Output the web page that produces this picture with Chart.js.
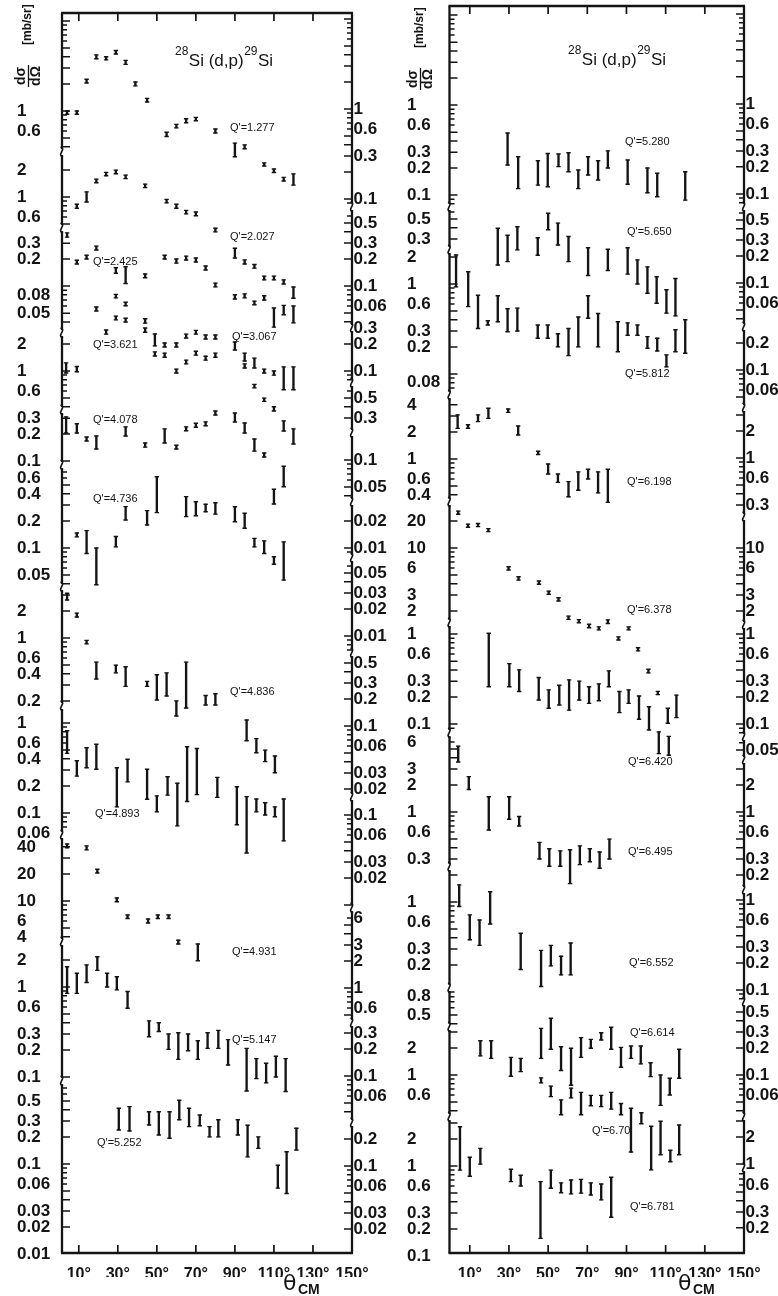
<!DOCTYPE html>
<html>
<head>
<meta charset="utf-8">
<script src="https://cdn.jsdelivr.net/npm/chart.js@4/dist/chart.umd.min.js"></script>
<style>
  body { margin: 0; background: #fff; }
  canvas { position: absolute; top: 0; }
</style>
</head>
<body>
<canvas id="left" width="389" height="1296" style="left:0"></canvas>
<canvas id="right" width="389" height="1296" style="left:389px"></canvas>
<script>
// ---- angles (deg, CM) and cross-section error bars (mb/sr) ----
// left panel
const th1277 = [4, 9, 14, 19, 24, 29, 34, 39, 45, 55, 60, 65, 70, 80, 90, 95, 105, 110, 115, 120];
const lo1277 = [0.92, 0.92, 2.05, 3.8, 3.7, 4.3, 3.3, 1.9, 1.26, 0.52, 0.65, 0.74, 0.78, 0.57, 0.31, 0.38, 0.245, 0.207, 0.167, 0.15];
const hi1277 = [1.0, 1.0, 2.25, 4.2, 4.0, 4.7, 3.65, 2.1, 1.38, 0.58, 0.71, 0.82, 0.85, 0.63, 0.44, 0.42, 0.265, 0.227, 0.183, 0.20];

const th2027 = [9, 14, 19, 24, 29, 34, 44, 55, 60, 65, 70, 80, 90, 95, 100, 105, 110, 115, 120];
const lo2027 = [0.75, 0.88, 1.44, 1.72, 1.81, 1.6, 1.27, 0.86, 0.75, 0.65, 0.62, 0.41, 0.21, 0.18, 0.162, 0.12, 0.12, 0.108, 0.075];
const hi2027 = [0.83, 1.14, 1.58, 1.88, 1.99, 1.75, 1.39, 0.94, 0.83, 0.71, 0.68, 0.45, 0.27, 0.2, 0.178, 0.132, 0.132, 0.12, 0.10];

const th2425 = [4, 9, 14, 19, 29, 34, 44, 54, 60, 65, 70, 75, 80, 90, 95, 100, 105, 110, 115, 120];
const lo2425 = [0.35, 0.176, 0.2, 0.252, 0.139, 0.107, 0.124, 0.2, 0.18, 0.195, 0.185, 0.151, 0.098, 0.072, 0.074, 0.062, 0.07, 0.035, 0.048, 0.039];
const hi2425 = [0.39, 0.194, 0.22, 0.278, 0.16, 0.164, 0.136, 0.22, 0.2, 0.215, 0.205, 0.167, 0.108, 0.08, 0.082, 0.068, 0.078, 0.057, 0.061, 0.060];

const th3621 = [3.5, 9, 19, 24, 29, 34, 44, 49, 54, 60, 65, 70, 75, 80, 95, 100, 105, 110];
const lo3621 = [0.95, 0.98, 4.65, 2.57, 3.7, 3.5, 2.7, 1.47, 1.42, 0.95, 1.2, 1.5, 1.32, 1.42, 1.08, 0.65, 0.46, 0.36];
const hi3621 = [1.23, 1.12, 5.15, 2.85, 4.07, 3.86, 3.0, 1.63, 1.58, 1.05, 1.32, 1.66, 1.46, 1.58, 1.2, 0.71, 0.5, 0.4];

const th3067 = [29, 34, 44, 49, 54, 60, 65, 70, 75, 80, 90, 95, 100, 105, 110, 115, 120];
const lo3067 = [0.65, 0.53, 0.34, 0.19, 0.185, 0.185, 0.233, 0.257, 0.227, 0.227, 0.171, 0.129, 0.108, 0.095, 0.09, 0.062, 0.062];
const hi3067 = [0.71, 0.58, 0.38, 0.258, 0.205, 0.205, 0.257, 0.283, 0.251, 0.251, 0.21, 0.158, 0.139, 0.105, 0.1, 0.111, 0.111];

const th4078 = [3.5, 9, 14, 19, 34, 44, 54, 60, 65, 70, 75, 80, 90, 95, 100, 105, 115, 120];
const lo4078 = [0.205, 0.205, 0.167, 0.136, 0.19, 0.143, 0.159, 0.136, 0.217, 0.238, 0.247, 0.325, 0.272, 0.205, 0.129, 0.111, 0.216, 0.155];
const hi4078 = [0.31, 0.26, 0.185, 0.19, 0.24, 0.159, 0.228, 0.15, 0.24, 0.263, 0.273, 0.36, 0.342, 0.265, 0.176, 0.123, 0.28, 0.228];

const th4736 = [9, 14, 19, 29, 34, 45, 50, 65, 70, 75, 80, 90, 95, 100, 105, 110, 115, 110, 115];
const lo4736 = [0.133, 0.087, 0.039, 0.103, 0.205, 0.18, 0.247, 0.223, 0.228, 0.253, 0.238, 0.196, 0.166, 0.103, 0.087, 0.066, 0.044, 0.308, 0.48];
const hi4736 = [0.147, 0.156, 0.1, 0.134, 0.288, 0.26, 0.62, 0.372, 0.327, 0.306, 0.318, 0.287, 0.243, 0.128, 0.12, 0.08, 0.117, 0.45, 0.81];

const th4836 = [4, 9, 14, 19, 29, 34, 45, 50, 55, 60, 65, 75, 80];
const lo4836 = [2.64, 1.71, 0.86, 0.35, 0.41, 0.29, 0.29, 0.205, 0.227, 0.136, 0.167, 0.18, 0.18];
const hi4836 = [3.14, 1.89, 0.94, 0.54, 0.50, 0.48, 0.33, 0.39, 0.41, 0.2, 0.54, 0.23, 0.24];

const th4893 = [4, 9, 14, 19, 29.5, 35, 45, 50, 55.5, 60.5, 65.5, 70.5, 81, 91, 96, 101, 105.5, 110.5, 115, 96, 101, 105.5, 110.5];
const lo4893 = [0.46, 0.257, 0.318, 0.306, 0.117, 0.222, 0.142, 0.103, 0.158, 0.072, 0.134, 0.16, 0.149, 0.074, 0.036, 0.103, 0.095, 0.091, 0.049, 0.636, 0.467, 0.372, 0.28];
const hi4893 = [0.82, 0.38, 0.53, 0.58, 0.318, 0.395, 0.306, 0.155, 0.253, 0.214, 0.545, 0.52, 0.249, 0.196, 0.152, 0.143, 0.13, 0.117, 0.143, 1.08, 0.67, 0.5, 0.43];

const th4931 = [4, 14, 19.5, 29.5, 35, 45.5, 50.5, 56, 61, 71];
const lo4931 = [39, 37, 20.5, 9.8, 6.4, 5.7, 6.4, 6.4, 3.33, 2.17];
const hi4931 = [43, 41, 22.5, 10.8, 7.0, 6.3, 7.0, 7.0, 3.67, 3.33];

const th5147 = [4, 9, 14, 19.5, 24.5, 29.5, 35, 46, 51, 56, 61, 66, 71, 76, 81.5, 86.5, 96, 101, 106, 111, 116];
const lo5147 = [0.85, 0.85, 1.12, 1.53, 1.0, 0.93, 0.58, 0.28, 0.32, 0.203, 0.157, 0.196, 0.157, 0.208, 0.208, 0.136, 0.07, 0.096, 0.086, 0.1, 0.069];
const hi5147 = [1.68, 1.42, 1.76, 2.17, 1.42, 1.3, 0.89, 0.42, 0.40, 0.30, 0.31, 0.30, 0.253, 0.31, 0.33, 0.26, 0.208, 0.16, 0.142, 0.17, 0.16];

const th5252 = [30.5, 36, 46, 51, 56.5, 61.5, 66.5, 72, 77, 81.5, 91.5, 96.5, 102, 112, 116.5, 121.5];
const lo5252 = [0.239, 0.233, 0.271, 0.21, 0.193, 0.31, 0.26, 0.266, 0.2, 0.2, 0.21, 0.12, 0.149, 0.054, 0.047, 0.143];
const hi5252 = [0.416, 0.434, 0.38, 0.38, 0.38, 0.51, 0.416, 0.35, 0.26, 0.31, 0.31, 0.27, 0.2, 0.097, 0.137, 0.25];

// right panel
const th5280 = [29.3, 34.7, 44.8, 49.8, 55.3, 60.4, 65.4, 70.4, 75.5, 80.5, 90.6, 100.7, 105.7, 120];
const lo5280 = [0.216, 0.118, 0.129, 0.124, 0.207, 0.182, 0.118, 0.167, 0.147, 0.2, 0.132, 0.106, 0.096, 0.088];
const hi5280 = [0.49, 0.267, 0.241, 0.29, 0.286, 0.296, 0.19, 0.267, 0.241, 0.31, 0.245, 0.2, 0.175, 0.182];

const th5650 = [24.3, 29.3, 34.3, 44.7, 50, 55, 60.4, 70.4, 80.5, 90.6, 95.6, 100.7, 105.4, 110.4, 115];
const lo5650 = [0.154, 0.168, 0.227, 0.198, 0.38, 0.257, 0.168, 0.118, 0.134, 0.122, 0.095, 0.075, 0.058, 0.045, 0.042];
const hi5650 = [0.395, 0.33, 0.41, 0.31, 0.58, 0.45, 0.32, 0.24, 0.231, 0.24, 0.176, 0.147, 0.114, 0.082, 0.109];

const th5812 = [3, 9.2, 14.2, 19.2, 24.3, 29.3, 34.3, 44.7, 49.8, 55, 60.4, 65.4, 70.4, 75.5, 85.6, 90.6, 95.6, 100.7, 105.7, 110.4, 115, 120];
const lo5812 = [0.93, 0.56, 0.32, 0.35, 0.38, 0.295, 0.3, 0.25, 0.25, 0.2, 0.16, 0.2, 0.416, 0.2, 0.177, 0.27, 0.27, 0.193, 0.18, 0.12, 0.177, 0.17];
const hi5812 = [2.1, 1.37, 0.75, 0.39, 0.74, 0.53, 0.54, 0.35, 0.35, 0.28, 0.32, 0.43, 0.74, 0.47, 0.38, 0.37, 0.35, 0.26, 0.25, 0.163, 0.31, 0.4];

const th6198 = [3.8, 9.1, 14.2, 19.5, 29.6, 34.7, 44.9, 50, 55, 60.4, 65.4, 70.4, 75.5, 80.5];
const lo6198 = [2.19, 2.2, 2.6, 2.83, 3.3, 1.85, 1.12, 0.68, 0.55, 0.38, 0.45, 0.6, 0.42, 0.33];
const hi6198 = [3.09, 2.4, 3.09, 3.66, 3.6, 2.33, 1.22, 0.88, 0.68, 0.56, 0.72, 0.77, 0.72, 0.77];

const th6378 = [4.1, 9.1, 14.2, 19.5, 29.8, 34.9, 45.3, 50.3, 55.3, 60.4, 65.7, 70.9, 75.9, 80.5, 85.9, 91.1, 95.9, 101.2, 106];
const lo6378 = [23.7, 17, 17.3, 15.2, 5.7, 4.4, 3.95, 3.06, 2.58, 1.61, 1.48, 1.3, 1.23, 1.45, 0.95, 1.23, 0.72, 0.41, 0.235];
const hi6378 = [25.7, 18.4, 18.7, 16.4, 6.2, 4.8, 4.3, 3.32, 2.8, 1.75, 1.6, 1.42, 1.33, 1.59, 1.03, 1.33, 0.78, 0.45, 0.255];

const th6420 = [19.7, 30.2, 35.2, 45.2, 50.3, 55.7, 60.7, 65.9, 70.9, 75.9, 81, 86.4, 91.1, 96.4, 101.5, 111.1, 115.5, 106.5, 111.6];
const lo6420 = [0.26, 0.26, 0.23, 0.185, 0.15, 0.163, 0.143, 0.185, 0.17, 0.182, 0.26, 0.134, 0.17, 0.113, 0.086, 0.102, 0.118, 0.047, 0.045];
const hi6420 = [1.02, 0.47, 0.4, 0.33, 0.24, 0.27, 0.31, 0.3, 0.26, 0.28, 0.39, 0.23, 0.24, 0.205, 0.156, 0.15, 0.21, 0.082, 0.073];

const th6495 = [4.1, 9.5, 19.7, 30.1, 35.2, 45.6, 50.6, 56.2, 61.2, 66.2, 71.3, 76.3, 81.3];
const lo6495 = [3.6, 1.78, 0.63, 0.83, 0.7, 0.3, 0.25, 0.25, 0.16, 0.26, 0.28, 0.237, 0.3];
const hi6495 = [5.4, 2.47, 1.48, 1.48, 0.89, 0.46, 0.39, 0.37, 0.38, 0.42, 0.39, 0.36, 0.5];

const th6552 = [4.6, 10, 15, 20.4, 36, 46.4, 51.4, 56.6, 61.5];
const lo6552 = [0.89, 0.38, 0.33, 0.57, 0.178, 0.115, 0.195, 0.155, 0.155];
const hi6552 = [1.55, 0.72, 0.63, 1.3, 0.45, 0.29, 0.33, 0.25, 0.35];

const th6614 = [15.4, 20.9, 31, 36, 46.4, 51.4, 56.6, 61.7, 66.8, 71.8, 77.1, 82.2, 87.2, 92.3, 97.3, 102.3, 107.4, 112.1, 116.9];
const lo6614 = [1.63, 1.53, 0.97, 1.09, 1.53, 1.93, 1.12, 0.77, 1.57, 1.98, 2.45, 1.93, 1.22, 1.53, 1.33, 0.96, 0.46, 0.6, 0.92];
const hi6614 = [2.4, 2.4, 1.57, 1.53, 3.3, 4.27, 2.06, 1.98, 2.6, 2.49, 2.95, 3.39, 2.03, 2.1, 2.1, 1.37, 1.0, 0.92, 1.93];

const th670 = [46.4, 51.4, 56.6, 61.7, 66.8, 71.8, 77.1, 82.2, 87.2, 92.3, 97.6, 102.6, 107.4, 112.4, 116.9];
const lo670 = [0.088, 0.062, 0.039, 0.06, 0.039, 0.049, 0.048, 0.045, 0.039, 0.015, 0.031, 0.0095, 0.014, 0.0117, 0.014];
const hi670 = [0.1, 0.081, 0.057, 0.077, 0.069, 0.064, 0.064, 0.069, 0.052, 0.046, 0.041, 0.029, 0.033, 0.0157, 0.030];

const th6781 = [5, 10, 15.4, 31, 36, 46.1, 51.4, 56.6, 61.7, 66.8, 71.8, 77.1, 82.2];
const lo6781 = [0.9, 0.77, 1.05, 0.67, 0.6, 0.157, 0.565, 0.505, 0.49, 0.5, 0.476, 0.42, 0.27];
const hi6781 = [2.73, 1.25, 1.57, 0.92, 0.79, 0.67, 0.9, 0.65, 0.7, 0.71, 0.65, 0.63, 0.75];

// ---- tick labels ----
const xTickVals = [10, 30, 50, 70, 90, 110, 130, 150];

const tkLA = [1, 0.6], tkLB = [2, 1, 0.6], tkLC = [0.3, 0.2, 0.08, 0.05], tkLD = [2, 1, 0.6];
const tkLE = [0.3, 0.2, 0.1], tkLF = [0.6, 0.4, 0.2, 0.1, 0.05], tkLG = [2, 1, 0.6, 0.4, 0.2];
const tkLH = [1, 0.6, 0.4, 0.2, 0.1, 0.06], tkLI = [40, 20, 10, 6, 4], tkLJ = [2, 1, 0.6, 0.3, 0.2, 0.1];
const tkLK = [0.5, 0.3, 0.2, 0.1, 0.06, 0.03, 0.02, 0.01];
const tkLR1 = [1, 0.6, 0.3, 0.1], tkLR2 = [0.5, 0.3, 0.2, 0.1, 0.06], tkLR3 = [0.3, 0.2, 0.1];
const tkLR4 = [0.5, 0.3], tkLR5 = [0.1, 0.05], tkLR6 = [0.02, 0.01], tkLR7 = [0.05, 0.03, 0.02, 0.01];
const tkLR8 = [0.5, 0.3, 0.2, 0.1, 0.06, 0.03, 0.02], tkLR9 = [0.1, 0.06, 0.03, 0.02];
const tkLR10 = [6, 3, 2, 1, 0.6], tkLR11 = [0.3, 0.2, 0.1, 0.06], tkLR12 = [0.2, 0.1, 0.06, 0.03, 0.02];

const tkRA = [1, 0.6, 0.3, 0.2, 0.1], tkRB = [0.5, 0.3], tkRC = [2, 1, 0.6, 0.3, 0.2, 0.08];
const tkRD = [4, 2, 1, 0.6, 0.4], tkRE = [20, 10, 6, 3, 2], tkRF = [1, 0.6, 0.3, 0.2, 0.1];
const tkRG = [6, 3, 2, 1, 0.6, 0.3], tkRH = [1, 0.6, 0.3, 0.2], tkRI = [0.8, 0.5], tkRJ = [2, 1, 0.6];
const tkRK = [2, 1, 0.6, 0.3, 0.2, 0.1];
const tkRR1 = [1, 0.6, 0.3, 0.2, 0.1], tkRR2 = [0.5, 0.3, 0.2, 0.1, 0.06], tkRR3 = [0.2, 0.1, 0.06];
const tkRR4 = [2, 1, 0.6, 0.3], tkRR5 = [10, 6, 3, 2], tkRR6 = [1, 0.6, 0.3, 0.2, 0.1], tkRR7 = [0.05];
const tkRR8 = [2, 1, 0.6, 0.3, 0.2], tkRR9 = [1, 0.6, 0.3, 0.2, 0.1], tkRR10 = [0.5, 0.3, 0.2, 0.1, 0.06];
const tkRR11 = [2, 1], tkRR12 = [0.6, 0.3, 0.2];

// ---- layout ----
const W = 389, H = 1296;
const DECADE_PX = 90;   // height of one decade in the original figure
const INK = '#141414';
const FONT = '"Liberation Sans", Arial, sans-serif';

const leftPanel = {
  canvas: 'left', left: 62, right: 352, top: 13, bottom: 1253, xMin: 1.4, labelX: 17,
  titleX: 175, titleY: 66, thetaX: 283, yTitle: [28, 76],
  segs: [
    {id: 'LA', side: 'L', from: 13, to: 152, v: 1, px: 111, ticks: tkLA},
    {id: 'LB', side: 'L', from: 152, to: 228, v: 1, px: 197, ticks: tkLB},
    {id: 'LC', side: 'L', from: 228, to: 333, v: 0.2, px: 259, ticks: tkLC},
    {id: 'LD', side: 'L', from: 333, to: 410, v: 1, px: 371, ticks: tkLD},
    {id: 'LE', side: 'L', from: 410, to: 465, v: 0.2, px: 434, ticks: tkLE},
    {id: 'LF', side: 'L', from: 465, to: 587, v: 0.1, px: 548, ticks: tkLF},
    {id: 'LG', side: 'L', from: 587, to: 706, v: 1, px: 638, ticks: tkLG},
    {id: 'LH', side: 'L', from: 706, to: 835, v: 0.1, px: 813, ticks: tkLH},
    {id: 'LI', side: 'L', from: 835, to: 942, v: 10, px: 901, ticks: tkLI},
    {id: 'LJ', side: 'L', from: 942, to: 1081, v: 1, px: 987, ticks: tkLJ},
    {id: 'LK', side: 'L', from: 1081, to: 1253, v: 0.1, px: 1164, ticks: tkLK},
    {id: 'LR1', side: 'R', from: 13, to: 207, v: 1, px: 109, ticks: tkLR1},
    {id: 'LR2', side: 'R', from: 207, to: 328, v: 0.1, px: 286, ticks: tkLR2},
    {id: 'LR3', side: 'R', from: 328, to: 383, v: 0.1, px: 371, ticks: tkLR3},
    {id: 'LR4', side: 'R', from: 383, to: 433, v: 0.3, px: 418, ticks: tkLR4},
    {id: 'LR5', side: 'R', from: 433, to: 502, v: 0.1, px: 460, ticks: tkLR5},
    {id: 'LR6', side: 'R', from: 502, to: 558, v: 0.01, px: 548, ticks: tkLR6},
    {id: 'LR7', side: 'R', from: 558, to: 653, v: 0.01, px: 636, ticks: tkLR7},
    {id: 'LR8', side: 'R', from: 653, to: 797, v: 0.1, px: 726, ticks: tkLR8},
    {id: 'LR9', side: 'R', from: 797, to: 908, v: 0.1, px: 815, ticks: tkLR9},
    {id: 'LR10', side: 'R', from: 908, to: 1023, v: 1, px: 988, ticks: tkLR10},
    {id: 'LR11', side: 'R', from: 1023, to: 1123, v: 0.1, px: 1076, ticks: tkLR11},
    {id: 'LR12', side: 'R', from: 1123, to: 1253, v: 0.1, px: 1166, ticks: tkLR12}
  ],
  series: [
    {q: '1.277', y: 'LA', th: th1277, lo: lo1277, hi: hi1277, lx: 230, ly: 128},
    {q: '2.027', y: 'LB', th: th2027, lo: lo2027, hi: hi2027, lx: 230, ly: 237},
    {q: '2.425', y: 'LC', th: th2425, lo: lo2425, hi: hi2425, lx: 93, ly: 262},
    {q: '3.621', y: 'LD', th: th3621, lo: lo3621, hi: hi3621, lx: 93, ly: 345},
    {q: '3.067', y: 'LR3', th: th3067, lo: lo3067, hi: hi3067, lx: 232, ly: 337},
    {q: '4.078', y: 'LE', th: th4078, lo: lo4078, hi: hi4078, lx: 93, ly: 420},
    {q: '4.736', y: 'LF', th: th4736, lo: lo4736, hi: hi4736, lx: 93, ly: 499},
    {q: '4.836', y: 'LG', th: th4836, lo: lo4836, hi: hi4836, lx: 230, ly: 692},
    {q: '4.893', y: 'LH', th: th4893, lo: lo4893, hi: hi4893, lx: 95, ly: 814},
    {q: '4.931', y: 'LI', th: th4931, lo: lo4931, hi: hi4931, lx: 232, ly: 952},
    {q: '5.147', y: 'LJ', th: th5147, lo: lo5147, hi: hi5147, lx: 232, ly: 1040},
    {q: '5.252', y: 'LK', th: th5252, lo: lo5252, hi: hi5252, lx: 97, ly: 1143}
  ]
};

const rightPanel = {
  canvas: 'right', left: 60.5, right: 355, top: 6, bottom: 1253, xMin: -0.35, labelX: 18,
  titleX: 179, titleY: 65, thetaX: 289, yTitle: [31, 79],
  segs: [
    {id: 'RA', side: 'L', from: 6, to: 207, v: 0.2, px: 168, ticks: tkRA},
    {id: 'RB', side: 'L', from: 207, to: 250, v: 0.3, px: 239, ticks: tkRB},
    {id: 'RC', side: 'L', from: 250, to: 395, v: 1, px: 284, ticks: tkRC},
    {id: 'RD', side: 'L', from: 395, to: 502, v: 1, px: 459, ticks: tkRD},
    {id: 'RE', side: 'L', from: 502, to: 623, v: 10, px: 548, ticks: tkRE},
    {id: 'RF', side: 'L', from: 623, to: 733, v: 0.2, px: 697, ticks: tkRF},
    {id: 'RG', side: 'L', from: 733, to: 867, v: 1, px: 812, ticks: tkRG},
    {id: 'RH', side: 'L', from: 867, to: 988, v: 1, px: 902, ticks: tkRH},
    {id: 'RI', side: 'L', from: 988, to: 1027, v: 0.5, px: 1015, ticks: tkRI},
    {id: 'RJ', side: 'L', from: 1027, to: 1117, v: 1, px: 1075, ticks: tkRJ},
    {id: 'RK', side: 'L', from: 1117, to: 1253, v: 1, px: 1166, ticks: tkRK},
    {id: 'RR1', side: 'R', from: 6, to: 207, v: 0.3, px: 151, ticks: tkRR1},
    {id: 'RR2', side: 'R', from: 207, to: 327, v: 0.1, px: 283, ticks: tkRR2},
    {id: 'RR3', side: 'R', from: 327, to: 408, v: 0.1, px: 370, ticks: tkRR3},
    {id: 'RR4', side: 'R', from: 408, to: 517, v: 1, px: 458, ticks: tkRR4},
    {id: 'RR5', side: 'R', from: 517, to: 625, v: 10, px: 548, ticks: tkRR5},
    {id: 'RR6', side: 'R', from: 625, to: 737, v: 0.2, px: 697, ticks: tkRR6},
    {id: 'RR7', side: 'R', from: 737, to: 760, v: 0.05, px: 750, ticks: tkRR7},
    {id: 'RR8', side: 'R', from: 760, to: 890, v: 1, px: 812, ticks: tkRR8},
    {id: 'RR9', side: 'R', from: 890, to: 1002, v: 1, px: 900, ticks: tkRR9},
    {id: 'RR10', side: 'R', from: 1002, to: 1117, v: 0.1, px: 1075, ticks: tkRR10},
    {id: 'RR11', side: 'R', from: 1117, to: 1168, v: 1, px: 1164, ticks: tkRR11},
    {id: 'RR12', side: 'R', from: 1168, to: 1253, v: 0.3, px: 1212, ticks: tkRR12}
  ],
  series: [
    {q: '5.280', y: 'RA', th: th5280, lo: lo5280, hi: hi5280, lx: 236, ly: 142},
    {q: '5.650', y: 'RB', th: th5650, lo: lo5650, hi: hi5650, lx: 238, ly: 232},
    {q: '5.812', y: 'RC', th: th5812, lo: lo5812, hi: hi5812, lx: 236, ly: 374},
    {q: '6.198', y: 'RD', th: th6198, lo: lo6198, hi: hi6198, lx: 238, ly: 482},
    {q: '6.378', y: 'RE', th: th6378, lo: lo6378, hi: hi6378, lx: 238, ly: 610},
    {q: '6.420', y: 'RF', th: th6420, lo: lo6420, hi: hi6420, lx: 239, ly: 762},
    {q: '6.495', y: 'RG', th: th6495, lo: lo6495, hi: hi6495, lx: 239, ly: 852},
    {q: '6.552', y: 'RH', th: th6552, lo: lo6552, hi: hi6552, lx: 240, ly: 963},
    {q: '6.614', y: 'RJ', th: th6614, lo: lo6614, hi: hi6614, lx: 241, ly: 1033},
    {q: '6.70', y: 'RI', th: th670, lo: lo670, hi: hi670, lx: 203, ly: 1131},
    {q: '6.781', y: 'RK', th: th6781, lo: lo6781, hi: hi6781, lx: 241, ly: 1207}
  ]
};

// small wavy axis-break mark
function drawBreak(ctx, x, y) {
  ctx.beginPath();
  ctx.moveTo(x + 1, y + 5);
  ctx.bezierCurveTo(x - 6, y + 3, x + 5, y - 3, x - 1.5, y - 5);
  ctx.stroke();
}

function drawTitle(ctx, x, y) {
  ctx.textAlign = 'left';
  ctx.textBaseline = 'alphabetic';
  const parts = [['28', 12, -11], ['Si (d,p)', 17, 0], ['29', 12, -11], ['Si', 17, 0]];
  let cx = x;
  parts.forEach(([t, size, dy]) => {
    ctx.font = size + 'px ' + FONT;
    ctx.fillText(t, cx, y + dy);
    cx += ctx.measureText(t).width + 0.5;
  });
}

function figurePlugin(p) {
  return {
    id: 'figure',
    afterDatasetsDraw(chart) {
      // caps of the error bars
      const ctx = chart.ctx;
      ctx.save();
      ctx.strokeStyle = INK;
      ctx.lineWidth = 1.4;
      ctx.beginPath();
      chart.data.datasets.forEach((ds, i) => {
        chart.getDatasetMeta(i).data.forEach(bar => {
          const {x, y, base} = bar.getProps(['x', 'y', 'base'], true);
          ctx.moveTo(x - 2.2, y); ctx.lineTo(x + 2.2, y);
          ctx.moveTo(x - 2.2, base); ctx.lineTo(x + 2.2, base);
        });
      });
      ctx.stroke();
      ctx.restore();
    },
    afterDraw(chart) {
      const ctx = chart.ctx;
      const xs = chart.scales.x;
      const {left, right, top, bottom} = chart.chartArea;
      ctx.save();
      ctx.strokeStyle = INK;
      ctx.fillStyle = INK;

      // top / bottom frame and inward angle ticks
      ctx.lineWidth = 2.3;
      ctx.beginPath();
      ctx.moveTo(left - 1, top); ctx.lineTo(right + 1, top);
      ctx.moveTo(left - 1, bottom); ctx.lineTo(right + 1, bottom);
      ctx.stroke();
      ctx.lineWidth = 1.7;
      ctx.beginPath();
      xTickVals.slice(0, -1).forEach(v => {
        const x = xs.getPixelForValue(v);
        ctx.moveTo(x, top); ctx.lineTo(x, top + 8);
        ctx.moveTo(x, bottom); ctx.lineTo(x, bottom - 8);
      });
      ctx.stroke();

      // broken logarithmic axes, left and right
      p.segs.forEach(sg => {
        const sc = chart.scales[sg.id];
        const ax = sg.side === 'L' ? left : right;
        const dir = sg.side === 'L' ? 1 : -1;
        const y0 = sg.from <= top + 0.5 ? top : sg.from + 3;
        const y1 = sg.to >= bottom - 0.5 ? bottom : sg.to - 3;
        ctx.lineWidth = 2.3;
        ctx.beginPath(); ctx.moveTo(ax, y0); ctx.lineTo(ax, y1); ctx.stroke();

        ctx.lineWidth = 1.5;
        ctx.beginPath();
        for (let e = -3; e <= 2; e++) {
          for (let k = 1; k <= 9; k++) {
            const y = sc.getPixelForValue(k * Math.pow(10, e));
            if (y < y0 + 1 || y > y1 + 0.5) continue;
            const len = k <= 5 ? 8 : 5;
            ctx.moveTo(ax, y); ctx.lineTo(ax + dir * len, y);
          }
        }
        ctx.stroke();

        ctx.font = 'bold 17px ' + FONT;
        ctx.textAlign = 'left';
        ctx.textBaseline = 'middle';
        const lx = sg.side === 'L' ? p.labelX : right + 1.5;
        sg.ticks.forEach(v => ctx.fillText(String(v), lx, sc.getPixelForValue(v)));

        if (sg.from > top + 0.5) {
          ctx.lineWidth = 1.7;
          drawBreak(ctx, ax, sg.from);
        }
      });

      // Q' labels
      ctx.font = '11px ' + FONT;
      ctx.textBaseline = 'middle';
      p.series.forEach(s => ctx.fillText("Q'=" + s.q, s.lx, s.ly));

      drawTitle(ctx, p.titleX, p.titleY);

      // theta_CM
      ctx.textBaseline = 'alphabetic';
      ctx.font = '22px "DejaVu Sans", sans-serif';
      ctx.fillText('θ', p.thetaX, 1290);
      ctx.font = 'bold 14px ' + FONT;
      ctx.fillText('CM', p.thetaX + 15, 1294);

      // d sigma / d Omega [mb/sr], rotated
      ctx.save();
      ctx.translate(p.yTitle[0], p.yTitle[1]);
      ctx.rotate(-Math.PI / 2);
      ctx.font = 'bold 14px ' + FONT;
      ctx.textAlign = 'center';
      ctx.textBaseline = 'middle';
      ctx.fillText('dσ', 0, -7);
      ctx.fillText('dΩ', 0, 8);
      ctx.lineWidth = 1.3;
      ctx.beginPath(); ctx.moveTo(-11, 0.5); ctx.lineTo(11, 0.5); ctx.stroke();
      ctx.textAlign = 'left';
      ctx.font = 'bold 12px ' + FONT;
      ctx.fillText('[mb/sr]', 31, 0);
      ctx.restore();

      ctx.restore();
    }
  };
}

function makePanel(p) {
  const scales = {
    x: {
      type: 'linear', axis: 'x', position: 'bottom', min: p.xMin, max: 150, offset: false,
      grid: {display: false}, border: {display: false},
      afterBuildTicks: s => { s.ticks = xTickVals.map(v => ({value: v})); },
      afterFit: s => { s.height = 24; },
      ticks: {
        autoSkip: false, maxRotation: 0, padding: 4, color: INK,
        font: {family: FONT, weight: 'bold', size: 16},
        callback: v => v + '°'
      }
    }
  };
  p.segs.forEach(sg => {
    scales[sg.id] = {
      type: 'logarithmic', axis: 'y', position: 'left', display: false, bounds: 'data',
      min: sg.v * Math.pow(10, -(p.bottom - sg.px) / DECADE_PX),
      max: sg.v * Math.pow(10, (sg.px - p.top) / DECADE_PX)
    };
  });

  const datasets = p.series.map(s => ({
    label: "Q'=" + s.q,
    xAxisID: 'x',
    yAxisID: s.y,
    data: s.th.map((t, i) => ({x: t, y: [s.lo[i], s.hi[i]]})),
    backgroundColor: INK,
    borderWidth: 0,
    barThickness: 1.7,
    grouped: false
  }));

  new Chart(document.getElementById(p.canvas), {
    type: 'bar',
    data: {datasets},
    options: {
      responsive: false,
      animation: false,
      devicePixelRatio: 1,
      events: [],
      layout: {padding: {left: p.left, right: W - p.right, top: p.top, bottom: H - p.bottom - 24}},
      plugins: {legend: {display: false}, tooltip: {enabled: false}},
      scales
    },
    plugins: [figurePlugin(p)]
  });
}

makePanel(leftPanel);
makePanel(rightPanel);
</script>
</body>
</html>
